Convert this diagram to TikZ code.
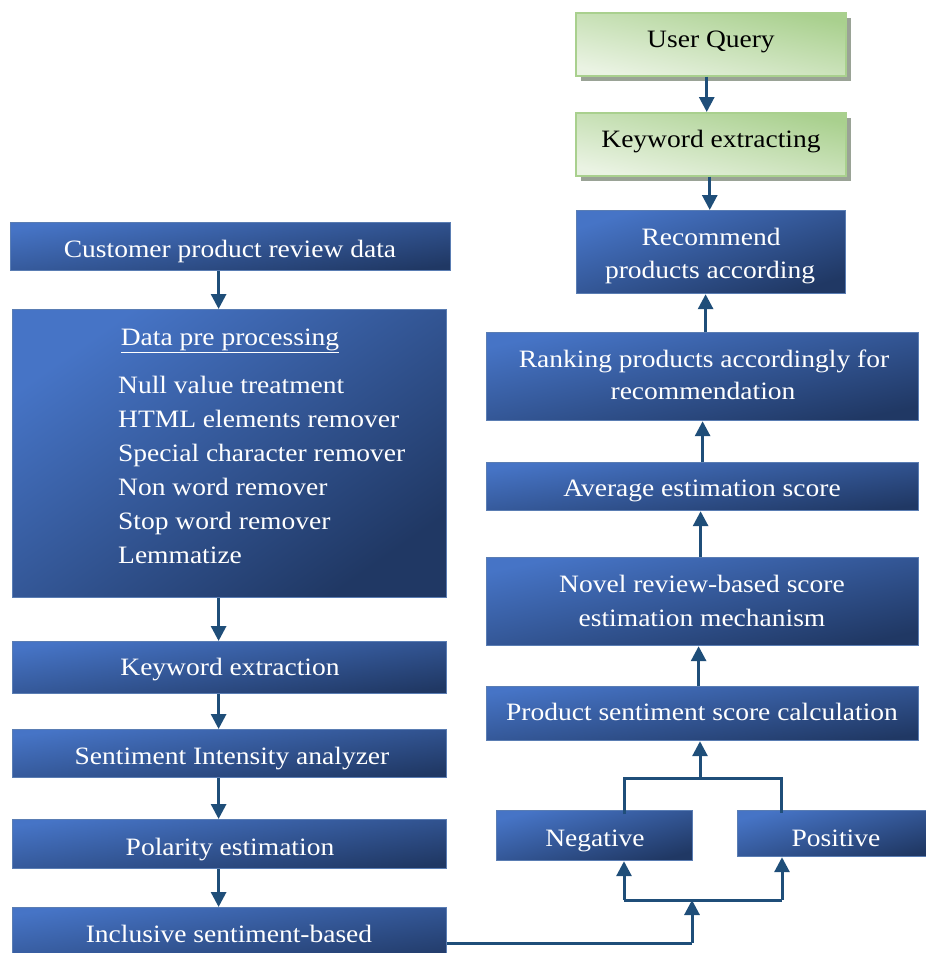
\documentclass[tikz,border=0pt]{standalone}
\usepackage{fontspec}
\setmainfont[FakeStretch=1.1]{Liberation Serif}
\usetikzlibrary{arrows.meta,shadows,calc}
\definecolor{blueTL}{HTML}{4674C6}
\definecolor{blueBR}{HTML}{203864}
\definecolor{bborder}{HTML}{5A7DB3}
\definecolor{greenD}{HTML}{A9D08E}
\definecolor{greenL}{HTML}{EAF3E3}
\definecolor{arrowc}{HTML}{1F4E79}
\definecolor{shadowc}{HTML}{9AA396}
\tikzset{
  bbox/.style={draw=bborder, line width=1.2pt, top color=blueTL, bottom color=blueBR, shading angle=8,
    anchor=north west, inner sep=0pt, rectangle},
  gbox/.style={draw=greenD, line width=1.5pt, top color=greenD, bottom color=greenL, shading angle=-12,
    anchor=north west, inner sep=0pt, rectangle,
    drop shadow={shadow xshift=5pt, shadow yshift=-5pt, fill=shadowc, opacity=1}},
  wtxt/.style={text=white, anchor=base, inner sep=0pt, font=\fontsize{25}{34}\selectfont},
  ktxt/.style={text=black, anchor=base, inner sep=0pt, font=\fontsize{25}{34}\selectfont},
  arr/.style={draw=arrowc, line width=3pt, -{Triangle[width=15pt,length=15pt]}},
  conn/.style={draw=arrowc, line width=3pt},
}
\begin{document}
\begin{tikzpicture}[x=1pt,y=-1pt]
\useasboundingbox (0,0) rectangle (926,953);
% right column
\node[gbox, minimum width=270pt, minimum height=63pt] (uq) at (575,12) {};
\node[gbox, minimum width=270pt, minimum height=63pt] (ke) at (575,112) {};
\node[bbox, minimum width=269pt, minimum height=83pt, shading angle=18] (rec) at (576,210) {};
\node[bbox, minimum width=432pt, minimum height=88pt, shading angle=12] (rank) at (486,332) {};
\node[bbox, minimum width=432pt, minimum height=48pt] (avg) at (486,462) {};
\node[bbox, minimum width=432pt, minimum height=88pt, shading angle=12] (nov) at (486,557) {};
\node[bbox, minimum width=432pt, minimum height=54pt] (psc) at (486,686) {};
\node[bbox, minimum width=196pt, minimum height=50pt, shading angle=15] (neg) at (496,810) {};
\node[bbox, minimum width=200pt, minimum height=46pt, shading angle=15] (pos) at (737,810) {};
% left column
\node[bbox, minimum width=440pt, minimum height=48pt] (cust) at (10,222) {};
\node[bbox, minimum width=434pt, minimum height=288pt, shading angle=35] (pre) at (12,309) {};
\node[bbox, minimum width=434pt, minimum height=52pt] (kwx) at (12,641) {};
\node[bbox, minimum width=434pt, minimum height=48pt] (sia) at (12,729) {};
\node[bbox, minimum width=434pt, minimum height=49pt] (pol) at (12,819) {};
\node[bbox, minimum width=434pt, minimum height=60pt] (inc) at (12,907) {};
% texts
\node[ktxt] (tuq) at (711,47) {User Query};
\node[ktxt] (tke) at (711,147) {Keyword extracting};
\node[wtxt] (trec1) at (711,245) {Recommend};
\node[wtxt] (trec2) at (710,278) {products according};
\node[wtxt] (trank1) at (704,367) {Ranking products accordingly for};
\node[wtxt] (trank2) at (703,399) {recommendation};
\node[wtxt] (tavg) at (702,496) {Average estimation score};
\node[wtxt] (tnov1) at (702,592) {Novel review-based score};
\node[wtxt] (tnov2) at (702,626) {estimation mechanism};
\node[wtxt] (tpsc) at (702,720) {Product sentiment score calculation};
\node[wtxt] (tneg) at (595,846) {Negative};
\node[wtxt] (tpos) at (836,846) {Positive};
\node[wtxt] (tcust) at (230,257) {Customer product review data};
\node[wtxt] (tpre) at (230,345) {\underline{Data pre processing}};
\node[wtxt, anchor=base west] (l1) at (118,393) {Null value treatment};
\node[wtxt, anchor=base west] (l2) at (118,427) {HTML elements remover};
\node[wtxt, anchor=base west] (l3) at (118,461) {Special character remover};
\node[wtxt, anchor=base west] (l4) at (118,495) {Non word remover};
\node[wtxt, anchor=base west] (l5) at (118,529) {Stop word remover};
\node[wtxt, anchor=base west] (l6) at (118,563) {Lemmatize};
\node[wtxt] (tkwx) at (230,675) {Keyword extraction};
\node[wtxt] (tsia) at (232,764) {Sentiment Intensity analyzer};
\node[wtxt] (tpol) at (230,855) {Polarity estimation};
\node[wtxt] (tinc) at (229,942) {Inclusive sentiment-based};
% left arrows
\draw[arr] ([xshift=-12pt]cust.south) -- ([xshift=-12pt]cust.south |- pre.north);
\draw[arr] ([xshift=-11pt]pre.south) -- ([xshift=-11pt]pre.south |- kwx.north);
\draw[arr] ([xshift=-11pt]kwx.south) -- ([xshift=-11pt]kwx.south |- sia.north);
\draw[arr] ([xshift=-11pt]sia.south) -- ([xshift=-11pt]sia.south |- pol.north);
\draw[arr] ([xshift=-11pt]pol.south) -- ([xshift=-11pt]pol.south |- inc.north);
% right arrows
\draw[arr] ([xshift=-4pt]uq.south) -- ([xshift=-4pt]uq.south |- ke.north);
\draw[arr] ([xshift=-1pt]ke.south) -- ([xshift=-1pt]ke.south |- rec.north);
\draw[arr] ([xshift=3pt]rank.north) -- ([xshift=3pt]rank.north |- rec.south);
\draw[arr] (avg.north) -- (avg.north |- rank.south);
\draw[arr] ([xshift=-2pt]nov.north) -- ([xshift=-2pt]nov.north |- avg.south);
\draw[arr] ([xshift=-4pt]psc.north) -- ([xshift=-4pt]psc.north |- nov.south);
% sentiment split
\coordinate (jbot) at (692,943);
\coordinate (jb) at (692,900);
\coordinate (jl) at (624,900);
\coordinate (jr) at (782,900);
\coordinate (tl) at (624,778);
\coordinate (tr) at (781,778);
\coordinate (tm) at (700,778);
\draw[conn] (inc.east |- jbot) -- (jbot);
\draw[arr] (jbot) -- (jb);
\draw[conn] (jl) -- (jr);
\draw[arr] (jl) -- (jl |- neg.south);
\draw[arr] (jr) -- (jr |- pos.south);
\draw[conn] ([yshift=-4pt]tl |- neg.north) -- (tl) -- (tr) -- ([yshift=-3pt]tr |- pos.north);
\draw[arr] (tm) -- (tm |- psc.south);
\end{tikzpicture}
\end{document}
